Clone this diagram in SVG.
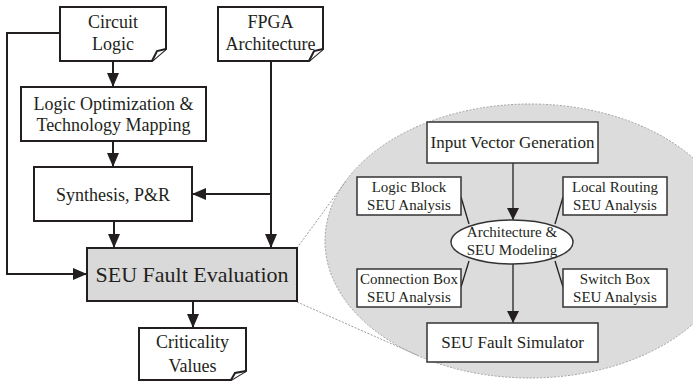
<svg xmlns="http://www.w3.org/2000/svg" width="693" height="381" viewBox="0 0 693 381">
<style>
text{font-family:"Liberation Serif","Times New Roman",serif;fill:#231f20;text-anchor:middle}
.m{fill:#fff;stroke:#231f20;stroke-width:2}
.i{fill:#fff;stroke:#333;stroke-width:1.5}
.c{fill:none;stroke:#231f20;stroke-width:2}
.ci{fill:none;stroke:#231f20;stroke-width:1.3}
.t18{font-size:18px}
.t17{font-size:17px}
.t15{font-size:15px}
.dot{fill:none;stroke:#9a9a9a;stroke-width:1;stroke-dasharray:2,1.5}
</style>
<defs>
<marker id="ah" viewBox="0 0 14 12" refX="14" refY="6" markerWidth="14" markerHeight="12" markerUnits="userSpaceOnUse" orient="auto">
<path d="M0,0 L14,6 L0,12 Z" fill="#231f20"/>
</marker>
<marker id="ahs" viewBox="0 0 12 12" refX="12" refY="6" markerWidth="12" markerHeight="12" markerUnits="userSpaceOnUse" orient="auto">
<path d="M0,0 L12,6 L0,12 Z" fill="#231f20"/>
</marker>
</defs>

<g id="zoom-ellipse">
<ellipse cx="530" cy="241" rx="205" ry="137" fill="#dcdcdc" stroke="#a0a0a0" stroke-width="1" stroke-dasharray="2,1.5"/>
<line class="dot" x1="297" y1="248" x2="346" y2="181"/>
<line class="dot" x1="297" y1="302" x2="417" y2="355"/>
</g>

<g id="connectors">
<path class="c" d="M60,33 H7 V274 H87" marker-end="url(#ah)"/>
<line class="c" x1="113" y1="61" x2="113" y2="87" marker-end="url(#ah)"/>
<line class="c" x1="113" y1="141" x2="113" y2="167" marker-end="url(#ah)"/>
<line class="c" x1="114" y1="221" x2="114" y2="248" marker-end="url(#ah)"/>
<line class="c" x1="271" y1="61" x2="271" y2="248" marker-end="url(#ah)"/>
<line class="c" x1="271" y1="194" x2="192" y2="194" marker-end="url(#ah)"/>
<line class="c" x1="193" y1="301" x2="193" y2="328" marker-end="url(#ah)"/>
<line class="ci" x1="513" y1="163" x2="513" y2="220" marker-end="url(#ahs)"/>
<line class="ci" x1="513" y1="264" x2="513" y2="323" marker-end="url(#ahs)"/>
<line class="ci" x1="461" y1="197" x2="469" y2="224"/>
<line class="ci" x1="563" y1="197" x2="555" y2="224"/>
<line class="ci" x1="469" y1="261" x2="461" y2="287"/>
<line class="ci" x1="555" y1="261" x2="563" y2="287"/>
</g>

<g id="circuit-logic">
<path class="m" d="M60,7 H166 V49 L152,61 H60 Z"/>
<path class="m" stroke-width="1.3" d="M152,61 L157,51 L166,49"/>
<text class="t18" x="113" y="28">Circuit</text>
<text class="t18" x="113" y="50">Logic</text>
</g>

<g id="fpga-architecture">
<path class="m" d="M218,7 H323 V49 L309,61 H218 Z"/>
<path class="m" stroke-width="1.3" d="M309,61 L314,51 L323,49"/>
<text class="t18" x="270.5" y="28">FPGA</text>
<text class="t18" x="270.5" y="50">Architecture</text>
</g>

<g id="logic-optimization">
<rect class="m" x="21" y="87" width="185" height="54"/>
<text class="t18" x="113.5" y="110">Logic Optimization &amp;</text>
<text class="t18" x="113.5" y="131">Technology Mapping</text>
</g>

<g id="synthesis">
<rect class="m" x="34" y="167" width="158" height="54"/>
<text class="t18" x="113" y="201">Synthesis, P&amp;R</text>
</g>

<g id="seu-fault-evaluation">
<rect class="m" x="87" y="248" width="210" height="53" fill="#d9d9d9" style="fill:#d9d9d9"/>
<text x="192" y="282" font-size="22">SEU Fault Evaluation</text>
</g>

<g id="criticality-values">
<path class="m" d="M139,328 H246 V371 L231,380 H139 Z"/>
<path class="m" stroke-width="1.3" d="M231,380 L235,373 L246,371"/>
<text class="t18" x="192.5" y="348">Criticality</text>
<text class="t18" x="192.5" y="372">Values</text>
</g>

<g id="input-vector-generation">
<rect class="i" x="427" y="122" width="171" height="41"/>
<text class="t17" x="512.5" y="148">Input Vector Generation</text>
</g>

<g id="logic-block">
<rect class="i" x="357" y="177" width="104" height="38"/>
<text class="t15" x="409" y="192">Logic Block</text>
<text class="t15" x="409" y="210">SEU Analysis</text>
</g>

<g id="local-routing">
<rect class="i" x="563" y="177" width="104" height="38"/>
<text class="t15" x="615" y="192">Local Routing</text>
<text class="t15" x="615" y="210">SEU Analysis</text>
</g>

<g id="architecture-modeling">
<ellipse class="i" cx="512" cy="242" rx="61" ry="22"/>
<text class="t15" x="512" y="237">Architecture &amp;</text>
<text class="t15" x="512" y="255">SEU Modeling</text>
</g>

<g id="connection-box">
<rect class="i" x="357" y="269" width="104" height="38"/>
<text class="t15" x="409" y="284">Connection Box</text>
<text class="t15" x="409" y="302">SEU Analysis</text>
</g>

<g id="switch-box">
<rect class="i" x="563" y="269" width="104" height="38"/>
<text class="t15" x="615" y="284">Switch Box</text>
<text class="t15" x="615" y="302">SEU Analysis</text>
</g>

<g id="seu-fault-simulator">
<rect class="i" x="427" y="323" width="171" height="39"/>
<text class="t17" x="512.5" y="348">SEU Fault Simulator</text>
</g>
</svg>
